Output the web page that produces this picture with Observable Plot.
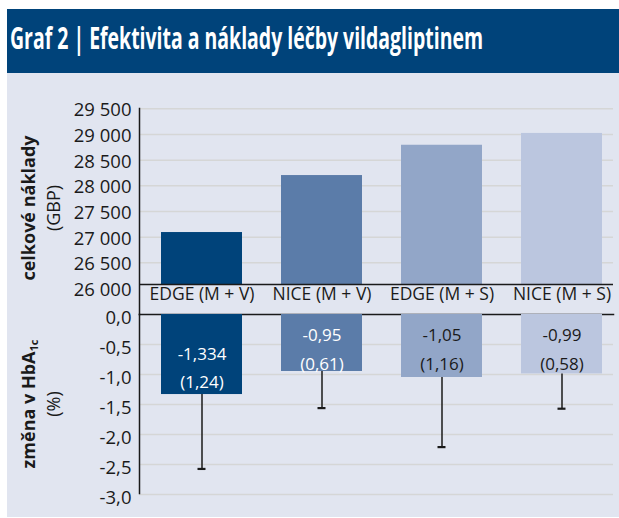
<!DOCTYPE html>
<html>
<head>
<meta charset="utf-8">
<script src="https://cdn.jsdelivr.net/npm/d3@7"></script>
<script src="https://cdn.jsdelivr.net/npm/@observablehq/plot@0.6"></script>
<style>
  html, body { margin: 0; padding: 0; background: #ffffff; }
  #wrap { position: relative; width: 619px; height: 518px; overflow: hidden; font-family: "Open Sans", "Noto Sans", sans-serif; }
  #titlebar { position: absolute; left: 7px; top: 9px; width: 612px; height: 64px; background: #00437a; }
  #title { position: absolute; left: 10px; top: 20px; color: #fff; font-weight: 700; font-size: 30px; line-height: 36px; white-space: nowrap; transform-origin: 0 0; }
  #panel { position: absolute; left: 7px; top: 73px; width: 612px; height: 444px; background: #e1e5f0; }
  .chart { position: absolute; left: 0; top: 0; }
  .ylab { position: absolute; white-space: nowrap; color: #1a1a1a; font-size: 18px; line-height: 20px; transform: translate(-50%, -50%) rotate(-90deg); }
  .ylab.b { font-weight: 700; }
  .ylab sub { font-size: 11px; vertical-align: -3px; line-height: 0; }
</style>
</head>
<body>
<div id="wrap">
  <div id="titlebar"></div>
  <div id="title">Graf 2 | Efektivita a náklady léčby vildagliptinem</div>
  <div id="panel"></div>
  <div class="ylab b" style="left:28px; top:208px;">celkové náklady</div>
  <div class="ylab" style="left:53px; top:208px;">(GBP)</div>
  <div class="ylab b" style="left:28px; top:404px;">změna v HbA<sub>1c</sub></div>
  <div class="ylab" style="left:53px; top:404px;">(%)</div>
</div>
<script>
// ---- data ----
const categories = ["EDGE (M + V)", "NICE (M + V)", "EDGE (M + S)", "NICE (M + S)"];
const totalCosts = [27090, 28200, 28790, 29020];           // GBP
const hba1cChange = [-1.334, -0.95, -1.05, -0.99];          // %
const hba1cSD = [1.24, 0.61, 1.16, 0.58];
const changeLabels = ["-1,334", "-0,95", "-1,05", "-0,99"];
const sdLabels = ["(1,24)", "(0,61)", "(1,16)", "(0,58)"];
const barColors = ["#00437a", "#5b7ca9", "#92a6c8", "#bbc6df"];
const labelColors = ["#ffffff", "#ffffff", "#1a1a1a", "#1a1a1a"];
const costTicks = [26000, 26500, 27000, 27500, 28000, 28500, 29000, 29500];
const changeTicks = [0, -0.5, -1, -1.5, -2, -2.5, -3];

const rows = categories.map((c, i) => ({
  cat: c, cost: totalCosts[i], change: hba1cChange[i], sd: hba1cSD[i],
  label: changeLabels[i] + "\n" + sdLabels[i], color: barColors[i], tcolor: labelColors[i], idx: i
}));

const loc = d3.formatLocale({decimal: ",", thousands: "\u2009", grouping: [3], currency: ["", ""], minus: "-"});
const fmtCost = d => loc.format(",")(d).replace("\u2009", " ");
const fmtChange = loc.format(".1f");

const FONT = '"Open Sans", "Noto Sans", sans-serif';
const INK = "#1a1a1a";
const GRID = "#d5d6d6";
const xOpts = {domain: categories, range: [160, 602], paddingInner: 0.327, paddingOuter: 0, axis: null};

const chart1 = Plot.plot({
  width: 619, height: 318,
  marginLeft: 139, marginRight: 6, marginTop: 108, marginBottom: 4,
  style: {background: "transparent", fontFamily: FONT, color: INK, overflow: "visible"},
  x: xOpts,
  y: {domain: [26000, 29500], range: [288, 108.3], axis: null},
  color: {type: "identity"},
  marks: [
    Plot.ruleY(costTicks.slice(1), {stroke: GRID, strokeWidth: 1.5}),
    Plot.barY(rows, {x: "cat", y1: 26000, y2: "cost", fill: "color", insetBottom: 4}),
    Plot.ruleY([26000], {dy: -4, stroke: INK, strokeWidth: 1.5}),
    Plot.axisY({ticks: costTicks, label: null, tickSize: 0, tickPadding: 8, tickFormat: fmtCost, fontSize: 18.5, dy: 1.5, fill: INK}),
    Plot.frame({anchor: "left", stroke: INK, strokeWidth: 1.5}),
    Plot.frame({anchor: "bottom", stroke: INK, strokeWidth: 1.5}),
    Plot.text(rows, {x: "cat", text: "cat", frameAnchor: "bottom", dy: -15, fontSize: 17.5, fill: INK})
  ]
});

const chart2 = Plot.plot({
  width: 619, height: 518,
  marginLeft: 139, marginRight: 6, marginTop: 314, marginBottom: 25,
  style: {background: "transparent", fontFamily: FONT, color: INK, overflow: "visible"},
  x: xOpts,
  y: {domain: [-3, 0], range: [494, 314], axis: null},
  color: {type: "identity"},
  marks: [
    Plot.ruleY(changeTicks.slice(1), {stroke: GRID, strokeWidth: 1.5}),
    Plot.barY(rows, {x: "cat", y1: 0, y2: "change", fill: "color"}),
    Plot.text(rows.filter(d => d.idx === 0), {x: "cat", text: "label", fill: "tcolor", frameAnchor: "top", lineAnchor: "middle", dy: 50.5, lineHeight: 1.65, fontSize: 17}),
    Plot.text(rows.filter(d => d.idx !== 0), {x: "cat", text: "label", fill: "tcolor", frameAnchor: "top", lineAnchor: "middle", dy: 32, lineHeight: 1.65, fontSize: 17}),
    Plot.ruleX(rows, {x: "cat", y1: "change", y2: d => d.change - d.sd, stroke: INK, strokeWidth: 1.5}),
    Plot.tickY(rows, {x: "cat", y: d => d.change - d.sd, insetLeft: 36.5, insetRight: 36.5, stroke: INK, strokeWidth: 2.2}),
    Plot.axisY({ticks: changeTicks, label: null, tickSize: 0, tickPadding: 8, tickFormat: fmtChange, fontSize: 18.5, dy: 4, fill: INK}),
    Plot.frame({anchor: "left", stroke: INK, strokeWidth: 1.5})
  ]
});

chart1.classList.add("chart");
chart2.classList.add("chart");
const wrap = document.getElementById("wrap");
wrap.appendChild(chart1);
wrap.appendChild(chart2);

// fit the condensed title to its width in the reference
const t = document.getElementById("title");
const w = t.getBoundingClientRect().width;
t.style.transform = `scaleX(${473 / w})`;
</script>
</body>
</html>
